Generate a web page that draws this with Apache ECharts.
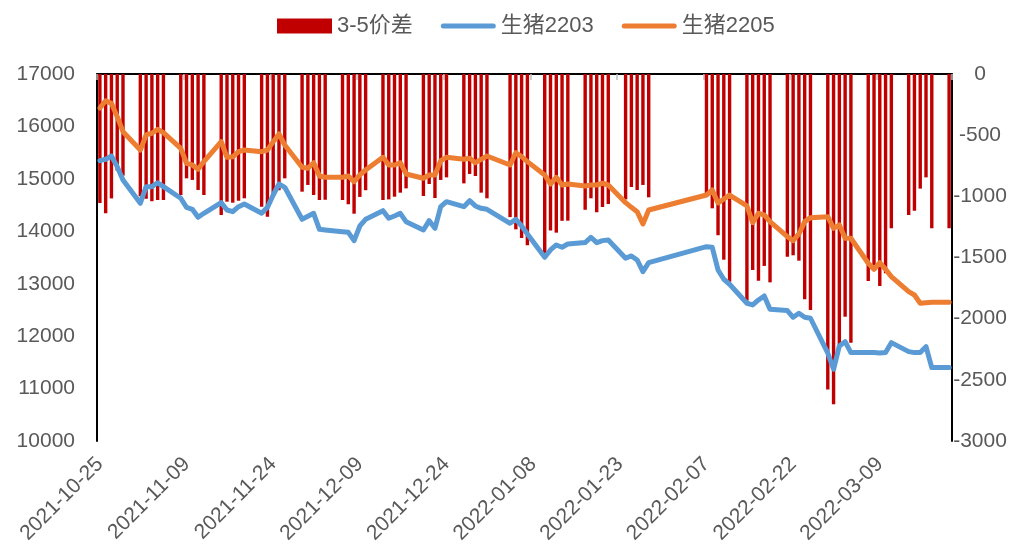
<!DOCTYPE html>
<html><head><meta charset="utf-8">
<script src="https://cdn.jsdelivr.net/npm/echarts@6/dist/echarts.min.js"></script>
<style>html,body{margin:0;padding:0;background:#fff}#c{width:1035px;height:553px}</style>
</head><body><div id="c"></div>
<script>
// ---- axis range (calendar days shown on the date axis) ----
const axisStart = '2021-10-25';
const axisDays = 148;          // 2021-10-25 .. 2022-03-21
const labelEvery = 15;         // tick label every 15 days

// ---- trading days and values ----
const tradeDates = [
 '2021-10-25','2021-10-26','2021-10-27','2021-10-28','2021-10-29',
 '2021-11-01','2021-11-02','2021-11-03','2021-11-04','2021-11-05',
 '2021-11-08','2021-11-09','2021-11-10','2021-11-11','2021-11-12',
 '2021-11-15','2021-11-16','2021-11-17','2021-11-18','2021-11-19',
 '2021-11-22','2021-11-23','2021-11-24','2021-11-25','2021-11-26',
 '2021-11-29','2021-11-30','2021-12-01','2021-12-02','2021-12-03',
 '2021-12-06','2021-12-07','2021-12-08','2021-12-09','2021-12-10',
 '2021-12-13','2021-12-14','2021-12-15','2021-12-16','2021-12-17',
 '2021-12-20','2021-12-21','2021-12-22','2021-12-23','2021-12-24',
 '2021-12-27','2021-12-28','2021-12-29','2021-12-30','2021-12-31',
 '2022-01-04','2022-01-05','2022-01-06','2022-01-07',
 '2022-01-10','2022-01-11','2022-01-12','2022-01-13','2022-01-14',
 '2022-01-17','2022-01-18','2022-01-19','2022-01-20','2022-01-21',
 '2022-01-24','2022-01-25','2022-01-26','2022-01-27','2022-01-28',
 '2022-02-07','2022-02-08','2022-02-09','2022-02-10','2022-02-11',
 '2022-02-14','2022-02-15','2022-02-16','2022-02-17','2022-02-18',
 '2022-02-21','2022-02-22','2022-02-23','2022-02-24','2022-02-25',
 '2022-02-28','2022-03-01','2022-03-02','2022-03-03','2022-03-04',
 '2022-03-07','2022-03-08','2022-03-09','2022-03-10','2022-03-11',
 '2022-03-14','2022-03-15','2022-03-16','2022-03-17','2022-03-18',
 '2022-03-21'
];
const spread35 = [
 -1055,-1139,-1017,-790,-830,
 -1000,-1020,-1040,-1030,-1030,
 -990,-853,-866,-948,-989,
 -1153,-1044,-1052,-1036,-1016,
 -1085,-1166,-1000,-950,-853,
 -962,-907,-989,-1030,-1028,
 -1030,-1064,-1142,-1005,-950,
 -1030,-1025,-1003,-970,-935,
 -997,-899,-1014,-866,-845,
 -894,-817,-834,-970,-1016,
 -1170,-1270,-1340,-1400,
 -1500,-1280,-1297,-1200,-1199,
 -1110,-1016,-1130,-1088,-1063,
 -1025,-924,-948,-907,-1008,
 -1000,-1098,-1318,-1518,-1698,
 -1853,-1602,-1690,-1569,-1703,
 -1493,-1482,-1526,-1842,-1929,
 -2578,-2700,-2229,-1984,-2196,
 -1692,-1597,-1733,-1629,-1261,
 -1153,-1117,-937,-845,-1261,
 -1261
];
const lh2203 = [
 15347,15373,15436,15233,14979,
 14534,14851,14851,14927,14851,
 14630,14457,14419,14267,14343,
 14546,14406,14374,14470,14521,
 14343,14457,14692,14902,14839,
 14229,14285,14343,14038,14025,
 13993,13980,13822,14101,14229,
 14393,14248,14292,14343,14184,
 14025,14203,14057,14470,14565,
 14470,14584,14483,14438,14419,
 14152,14229,14101,13949,
 13504,13644,13739,13695,13758,
 13784,13886,13784,13822,13835,
 13485,13530,13453,13230,13402,
 13707,13695,13262,13085,12990,
 12627,12595,12690,12767,12513,
 12487,12360,12437,12360,12341,
 11674,11368,11813,11895,11686,
 11686,11686,11680,11686,11876,
 11705,11686,11686,11800,11400,
 11400
];
const lh2205 = [
 16350,16491,16440,16186,15900,
 15550,15837,15870,15945,15881,
 15583,15297,15265,15183,15329,
 15710,15411,15420,15518,15550,
 15518,15550,15710,15856,15646,
 15221,15202,15308,15055,15030,
 15030,15055,14946,15074,15169,
 15411,15265,15265,15308,15093,
 15011,15074,15074,15347,15411,
 15373,15392,15308,15373,15436,
 15265,15499,15423,15329,
 15074,14902,15030,14883,14902,
 14864,14883,14883,14916,14883,
 14546,14457,14374,14140,14406,
 14692,14788,14540,14615,14690,
 14483,14165,14343,14311,14184,
 13898,13822,13949,14184,14260,
 14279,14057,14120,13867,13867,
 13390,13276,13403,13276,13135,
 12849,12785,12627,12639,12645,
 12645
];
const seriesNames = ['3-5价差','生猪2203','生猪2205'];
const leftAxis = {min:10000, max:17000, step:1000};
const rightAxis = {min:-3000, max:0, step:500};

// ---- build calendar categories and align data ----
const cats = [];
const t0 = Date.parse(axisStart + 'T00:00:00Z');
for (let i = 0; i < axisDays; i++) cats.push(new Date(t0 + i*86400000).toISOString().slice(0,10));
const pos = {};
tradeDates.forEach((d,i)=>{pos[d]=i;});
const onCal = arr => cats.map(c => (c in pos) ? arr[pos[c]] : null);

const FONT = "'Liberation Sans','Noto Sans CJK SC',sans-serif";
const TXT = '#595959';
const LINE_ICON = 'path://M2.5,0 L52.5,0 A2.5,2.5 0 0 1 52.5,5 L2.5,5 A2.5,2.5 0 0 1 2.5,0 Z';

const chart = echarts.init(document.getElementById('c'), null, {renderer:'canvas'});
chart.setOption({
  animation:false,
  backgroundColor:'#fff',
  textStyle:{fontFamily:FONT},
  legend:{
    left:272, top:10, itemWidth:55, itemHeight:15, itemGap:28,
    textStyle:{fontSize:22, color:TXT, fontFamily:FONT},
    data:[
      {name:seriesNames[0], icon:'rect'},
      {name:seriesNames[1], icon:LINE_ICON},
      {name:seriesNames[2], icon:LINE_ICON}
    ]
  },
  grid:{left:97, right:83, top:74, bottom:112, containLabel:false, outerBoundsMode:'none'},
  xAxis:[{
    type:'category', data:cats, boundaryGap:true, position:'bottom',
    axisLine:{show:true, lineStyle:{color:'#bfbfbf', width:1.5}},
    axisTick:{show:true, interval:labelEvery-1, length:6, lineStyle:{color:'#bfbfbf', width:1.5}},
    axisLabel:{interval:labelEvery-1, rotate:45, fontSize:21, color:TXT, margin:20, fontFamily:FONT},
    splitLine:{show:false}
  },{
    type:'category', data:cats, boundaryGap:true, position:'top',
    axisLine:{show:true, onZero:false, lineStyle:{color:'#000', width:2}},
    axisTick:{show:false}, axisLabel:{show:false}, splitLine:{show:false}
  }],
  yAxis:[{
    type:'value', position:'left', min:leftAxis.min, max:leftAxis.max, interval:leftAxis.step,
    axisLine:{show:true, lineStyle:{color:'#000', width:2}},
    axisTick:{show:false},
    axisLabel:{fontSize:21, color:TXT, margin:22, fontFamily:FONT, formatter:v=>String(v)},
    splitLine:{show:false}
  },{
    type:'value', position:'right', min:rightAxis.min, max:rightAxis.max, interval:rightAxis.step,
    axisLine:{show:true, lineStyle:{color:'#000', width:2}},
    axisTick:{show:false},
    axisLabel:{fontSize:21, color:TXT, margin:28, align:'center', fontFamily:FONT, formatter:v=>String(v)},
    splitLine:{show:false}
  }],
  series:[{
    name:seriesNames[0], type:'bar', xAxisIndex:0, yAxisIndex:1,
    data:onCal(spread35), barWidth:3.4, itemStyle:{color:'#C00000'}
  },{
    name:seriesNames[1], type:'line', xAxisIndex:0, yAxisIndex:0,
    data:onCal(lh2203), connectNulls:true, symbol:'none',
    lineStyle:{color:'#5B9BD5', width:5, cap:'round', join:'round'}, itemStyle:{color:'#5B9BD5'}
  },{
    name:seriesNames[2], type:'line', xAxisIndex:0, yAxisIndex:0,
    data:onCal(lh2205), connectNulls:true, symbol:'none',
    lineStyle:{color:'#ED7D31', width:5, cap:'round', join:'round'}, itemStyle:{color:'#ED7D31'}
  }]
});
</script>
</body></html>
